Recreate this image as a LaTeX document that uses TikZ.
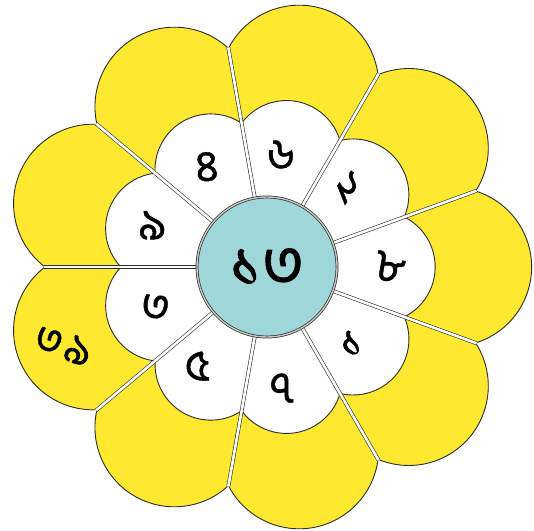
\documentclass[tikz,border=0pt]{standalone}
\usepackage{fontspec}
\newfontfamily\bn[Script=Bengali, FakeBold=1]{Hind Siliguri}
\usetikzlibrary{calc}
\definecolor{petal}{RGB}{254,232,48}
\definecolor{centre}{RGB}{158,214,218}
\definecolor{ink}{RGB}{45,45,40}
\begin{document}
\begin{tikzpicture}[x=1pt,y=1pt,
  outerpetal/.style={fill=petal, draw=ink, line width=0.9pt},
  innerpetal/.style={fill=white, draw=ink, line width=0.9pt},
  sepline/.style={draw=ink, line width=0.6pt, double=white, double distance=2.6pt},
  digit/.style={font=\bn\fontsize{44}{44}\selectfont, text=black, inner sep=0pt}]
\useasboundingbox (0,0) rectangle (534,530);
\coordinate (C) at (267,263);
% outer yellow petals
\foreach \a in {0,40,...,320}{
  \draw[outerpetal] (C) -- ++(\a-20:222) arc[start angle=\a-72.8, end angle=\a+72.8, radius=79.5] -- cycle;
}
% inner white petals
\foreach \a in {0,40,...,320}{
  \draw[innerpetal] (C) -- ++(\a-20:146) arc[start angle=\a-63.6, end angle=\a+63.6, radius=55.8] -- cycle;
}
% separators
\foreach \s in {20,60,...,340}{
  \draw[sepline] (C) -- ++(\s:223);
}
% centre disc
\fill[centre] (C) circle[radius=70];
\draw[ink, line width=0.7pt, double=gray!45, double distance=1.4pt] (C) circle[radius=70];
\node[font=\bn\fontsize{64}{64}\selectfont, inner sep=0pt] (mid) at (C) {১৩};
% digits
\node[digit, rotate=-10] (d0) at ($(C)+(0:123)$) {৮};
\node[digit, rotate=-35] (d1) at ($(C)+(45:113)$) {২};
\node[digit] (d2) at ($(C)+(83:113)$) {৬};
\node[digit, rotate=5] (d3) at ($(C)+(121:117)$) {৪};
\node[digit] (d4) at ($(C)+(160:122)$) {৯};
\node[digit, rotate=-10] (d5) at ($(C)+(200:119)$) {৩};
\node[digit] (d6) at ($(C)+(235:121)$) {৫};
\node[digit] (d7) at ($(C)+(277:122)$) {৭};
\node[digit] (d8) at ($(C)+(318:114)$) {১};
\node[digit, rotate=-20, font=\bn\fontsize{42}{42}\selectfont] (p5) at ($(C)+(201:218)$) {৩\kern4pt৯};
\end{tikzpicture}
\end{document}
